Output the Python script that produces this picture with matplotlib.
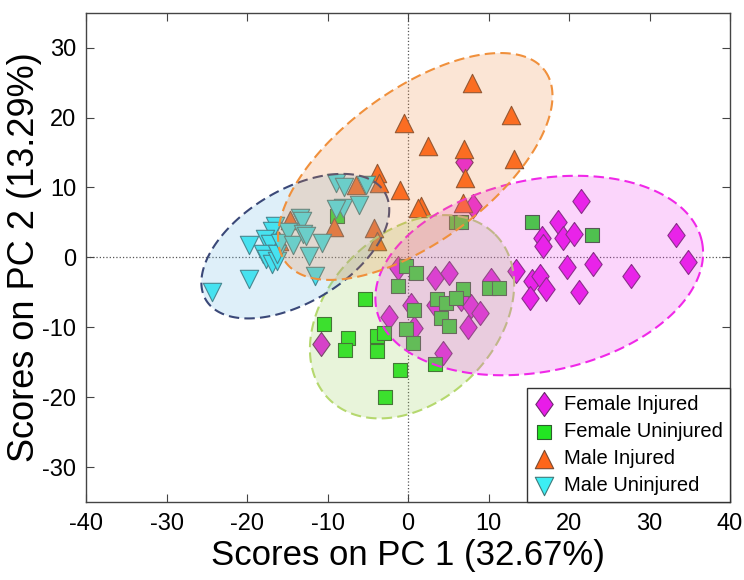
import numpy as np
import matplotlib.pyplot as plt
from matplotlib.patches import Polygon
from matplotlib.colors import to_rgba

# PCA scores, one pair of arrays per group
fi_x = [7.0, 8.1, -1.3, 3.3, 5.1, 10.3, 13.4, 0.4, -2.3, 3.3, 6.6, 7.8, 8.9, 7.4, 0.8, 4.3,
        -10.8, 21.5, 18.6, 16.6, 16.8, 19.3, 20.6, 33.3, 34.8, 19.7, 23.0, 27.7, 15.4, 16.4,
        17.2, 15.2, 21.2]
fi_y = [13.7, 7.3, -1.5, -3.0, -2.2, -3.2, -2.0, -6.8, -8.5, -6.8, -6.0, -7.0, -8.0, -9.9, -10.1, -13.7,
        -12.4, 8.0, 5.0, 2.8, 1.6, 2.8, 3.3, 3.2, -0.6, -1.4, -1.0, -2.7, -3.4, -2.7,
        -4.6, -5.8, -4.9]

fu_x = [15.4, 22.8, 10.1, 11.3, 5.9, 6.6, -0.3, 1.0, -1.3, 6.8, 3.6, 4.7, 5.9, 0.7, 4.1,
        5.1, -0.3, 0.6, 3.3, -5.4, -3.8, -3.0, -3.8, -1.0, -2.9, -10.4, -7.5, -7.8, -8.8]
fu_y = [5.0, 3.2, -4.4, -4.4, 5.0, 5.0, -1.3, -2.2, -4.1, -4.6, -6.0, -6.5, -5.8, -7.6, -8.7,
        -9.8, -10.3, -12.3, -15.2, -6.0, -11.3, -10.8, -13.4, -16.1, -20.0, -9.5, -11.5, -13.2, 5.9]

mi_x = [8.0, 12.8, -0.5, 2.5, 6.9, 13.2, 7.1, -3.8, -3.6, -1.0, 1.6, 1.2, 6.8, -6.4, -9.2,
        -14.6, -4.2, -3.8, -16.0]
mi_y = [24.9, 20.4, 19.2, 15.9, 15.5, 14.1, 11.4, 12.0, 10.6, 9.7, 7.3, 7.1, 7.8, 10.3, 4.4,
        5.4, 4.2, 2.3, 2.3]

mu_x = [-24.4, -19.8, -19.8, -16.5, -16.9, -17.8, -17.1, -18.0, -17.6, -16.9, -16.3, -16.3,
        -15.9, -14.9, -13.4, -13.2, -14.3, -13.0, -10.7, -12.3, -11.6, -9.0, -7.9, -5.2,
        -8.1, -6.1, -12.7, -8.9]
mu_y = [-5.0, -3.1, 1.7, 4.5, 3.8, 2.6, 1.9, 0.5, -0.2, -0.9, -0.5, 0.5,
        2.1, 3.6, 5.7, 5.2, 1.7, 3.3, 2.1, 0.2, -2.6, 10.6, 10.1, 10.4,
        7.0, 7.5, 3.0, 6.9]

# confidence ellipses: centre and two conjugate semi-axes (data units)
fi_ell = [(16.3, -2.6), (20.2, 4.9), (2.5, -13.4)]
fu_ell = [(0.5, -8.5), (10.3, 11.8), (7.4, -8.5)]
mi_ell = [(0.9, 13.0), (16.1, 13.7), (5.6, -8.7)]
mu_ell = [(-14.0, 1.6), (11.1, 7.7), (3.6, -6.9)]

labels = ['Female Injured', 'Female Uninjured', 'Male Injured', 'Male Uninjured']

plt.rcParams['font.family'] = ['Liberation Sans', 'DejaVu Sans']
plt.rcParams['axes.unicode_minus'] = False

fig = plt.figure(figsize=(7.44, 5.8), dpi=100)
ax = fig.add_axes([0.1156, 0.1345, 0.8656, 0.8436])

diamond = [(0, 1), (0.72, 0), (0, -1), (-0.72, 0), (0, 1)]

ax.axhline(0, color='#555555', ls=':', lw=0.9, zorder=1)
ax.axvline(0, color='#555555', ls=':', lw=0.9, zorder=1)

ax.scatter(fi_x, fi_y, marker=diamond, s=300, c='#E81CE8', edgecolors='#6E2A6E',
           linewidths=0.8, zorder=2, label=labels[0])
ax.scatter(fu_x, fu_y, marker='s', s=95, c='#22E622', edgecolors='#2E5E2E',
           linewidths=0.8, zorder=2, label=labels[1])
ax.scatter(mi_x, mi_y, marker='^', s=175, c='#FF661A', edgecolors='#7A4A30',
           linewidths=0.8, zorder=2, label=labels[2])
ax.scatter(mu_x, mu_y, marker='v', s=175, c='#3CEEF4', edgecolors='#3F7A7A',
           linewidths=0.8, zorder=2, label=labels[3])

t = np.linspace(0, 2 * np.pi, 300)
for ell, fc, ec in [(fu_ell, '#9ACD5A', '#B5D86E'),
                    (fi_ell, '#F040F0', '#F028E8'),
                    (mu_ell, '#6AB8E4', '#3A4878'),
                    (mi_ell, '#F08A40', '#F0903C')]:
    c, a1, a2 = (np.array(v) for v in ell)
    pts = c + np.outer(np.cos(t), a1) + np.outer(np.sin(t), a2)
    ax.add_patch(Polygon(pts, closed=True, facecolor=to_rgba(fc, 0.22), edgecolor=ec,
                         lw=1.5, ls=(0, (5, 2.5)), zorder=3))

ax.set_xlim(-40, 40)
ax.set_ylim(-35, 35)
ax.set_xticks(np.arange(-40, 41, 10))
ax.set_yticks(np.arange(-30, 31, 10))
ax.tick_params(direction='in', top=True, right=True, length=6, width=0.8,
               color='#444444', labelsize=17)
ax.tick_params(axis='x', pad=8)
ax.tick_params(axis='y', pad=7)
for sp in ax.spines.values():
    sp.set_color('#444444')
    sp.set_linewidth(1.0)

ax.set_xlabel('Scores on PC 1 (32.67%)', fontsize=25, labelpad=3)
ax.set_ylabel('Scores on PC 2 (13.29%)', fontsize=26)
ax.yaxis.set_label_coords(-0.069, 0.5)

leg = ax.legend(loc='lower right', bbox_to_anchor=(1, 0), borderaxespad=0,
                fontsize=14.5, frameon=True, fancybox=False, framealpha=1,
                edgecolor='#333333', handlelength=1.0, handletextpad=0.5,
                labelspacing=0.4, borderpad=0.35, scatterpoints=1)
leg.get_frame().set_linewidth(1.0)
leg.set_zorder(10)

fig.savefig('out.png', dpi=100)
